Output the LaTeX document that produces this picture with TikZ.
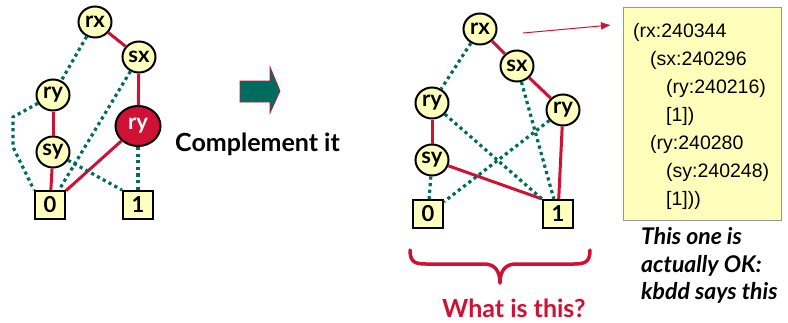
\documentclass[tikz,border=0pt]{standalone}
\usepackage{fontspec}
\setmainfont{Lato}
\newfontfamily\codefont{Liberation Sans}
\usetikzlibrary{shapes.geometric,arrows.meta}

\definecolor{bddred}{RGB}{206,17,52}
\definecolor{bddteal}{RGB}{0,108,96}
\definecolor{nodeyellow}{RGB}{255,255,190}
\definecolor{boxyellow}{RGB}{255,255,187}
\definecolor{boxgray}{RGB}{150,150,150}

\tikzset{
  varnode/.style={ellipse, draw=black, line width=2pt, fill=nodeyellow,
    minimum width=33pt, minimum height=31pt, inner sep=0pt,
    font=\bfseries\fontsize{22}{22}\selectfont},
  hotnode/.style={varnode, fill=bddred, text=white,
    minimum width=45pt, minimum height=40pt},
  termnode/.style={rectangle, draw=black, line width=2pt, fill=nodeyellow,
    minimum width=30pt, minimum height=28pt, inner sep=0pt,
    font=\bfseries\fontsize{22}{22}\selectfont},
  hiedge/.style={draw=bddred, line width=3pt},
  loedge/.style={draw=bddteal, line width=3.2pt, dash pattern=on 3.2pt off 3.4pt},
  codeline/.style={anchor=base west, inner sep=0pt,
    font=\codefont\fontsize{19.5}{19.5}\selectfont},
  notetext/.style={anchor=base west, inner sep=0pt},
  italnote/.style={notetext, font=\bfseries\itshape\fontsize{23}{23}\selectfont}
}

\begin{document}
\begin{tikzpicture}[x=1pt,y=-1pt]
\useasboundingbox (0,0) rectangle (788,322);

% ---------- original diagram ----------
\node[varnode] (Lrx) at (95,22) {rx};
\node[varnode] (Lsx) at (139,57) {sx};
\node[varnode] (Lry) at (53,95) {ry};
\node[varnode] (Lsy) at (53,152) {sy};
\node[hotnode] (Lryh) at (138,126) {ry};
\node[termnode] (L0) at (50,205) {0};
\node[termnode] (L1) at (138,205) {1};

\draw[hiedge] (Lrx) -- (Lsx);
\draw[hiedge] (Lsx) -- (Lryh);
\draw[hiedge] (Lry) -- (Lsy);
\draw[hiedge] (Lsy) -- (L0);
\draw[hiedge] (Lryh) -- (L0);
\draw[loedge] (Lrx) -- (Lry);
\draw[loedge] (Lry) -- (13,117) -- (13,147) -- (L0.north west);
\draw[loedge] (Lsx) -- (L0);
\draw[loedge] (Lsy) -- (L1.north west);
\draw[loedge] (Lryh) -- (L1);

% ---------- block arrow ----------
\draw[draw=bddred, line width=0.8pt, fill=bddteal]
  (240,81) -- (270,81) -- (270,67) -- (280,91) -- (270,113) -- (270,102)
  -- (240,102) -- cycle;
\node[notetext, font=\bfseries\fontsize{25}{25}\selectfont] (cmp) at (175,151) {Complement it};

% ---------- complemented diagram ----------
\node[varnode] (Rrx) at (480,29) {rx};
\node[varnode] (Rsx) at (517,66) {sx};
\node[varnode] (Rry) at (432,103) {ry};
\node[varnode] (Rryb) at (563,110) {ry};
\node[varnode] (Rsy) at (432,160) {sy};
\node[termnode] (R0) at (428,214) {0};
\node[termnode] (R1) at (558,214) {1};

\draw[hiedge] (Rrx) -- (Rsx);
\draw[hiedge] (Rsx) -- (Rryb);
\draw[hiedge] (Rry) -- (Rsy);
\draw[hiedge] (Rsy) -- (R1.north west);
\draw[hiedge] (Rryb) -- (R1);
\draw[loedge] (Rrx) -- (Rry);
\draw[loedge] (Rry) -- (R1.north west);
\draw[loedge] (Rsx) -- (R1);
\draw[loedge] (Rryb) -- (R0);
\draw[loedge] (Rsy) -- (R0);

% ---------- pointer to the kbdd dump ----------
\coordinate (ptrA) at (523,33);
\coordinate (ptrB) at (611,25);
\draw[bddred, line width=1pt, -{Latex[length=10pt,width=8pt]}] (ptrA) -- (ptrB);

\node[rectangle, draw=boxgray, line width=1pt, fill=boxyellow,
  minimum width=158pt, minimum height=213pt, inner sep=0pt] (dump) at (702,113.5) {};
\node[codeline] (d1) at (633,37) {(rx:240344};
\node[codeline] (d2) at (650,65) {(sx:240296};
\node[codeline] (d3) at (666,93) {(ry:240216)};
\node[codeline] (d4) at (666,121) {[1])};
\node[codeline] (d5) at (650,149) {(ry:240280};
\node[codeline] (d6) at (666,177) {(sy:240248)};
\node[codeline] (d7) at (666,205) {[1]))};

\node[italnote] (n1) at (641,244) {This one is};
\node[italnote] (n2) at (641,272) {actually OK:};
\node[italnote] (n3) at (641,299) {kbdd says this};

% ---------- brace under the complemented diagram ----------
\draw[bddred, line width=3.5pt, line cap=round, line join=round]
  (410,250) .. controls (410,262) and (415,264) .. (426,264) -- (484,264)
  .. controls (494,264) and (500,270) .. (500,283)
  .. controls (500,270) and (506,264) .. (516,264) -- (574,264)
  .. controls (585,264) and (590,262) .. (590,250);
\node[notetext, text=bddred, font=\bfseries\fontsize{25}{25}\selectfont] (what) at (442,317) {What is this?};
\end{tikzpicture}
\end{document}
